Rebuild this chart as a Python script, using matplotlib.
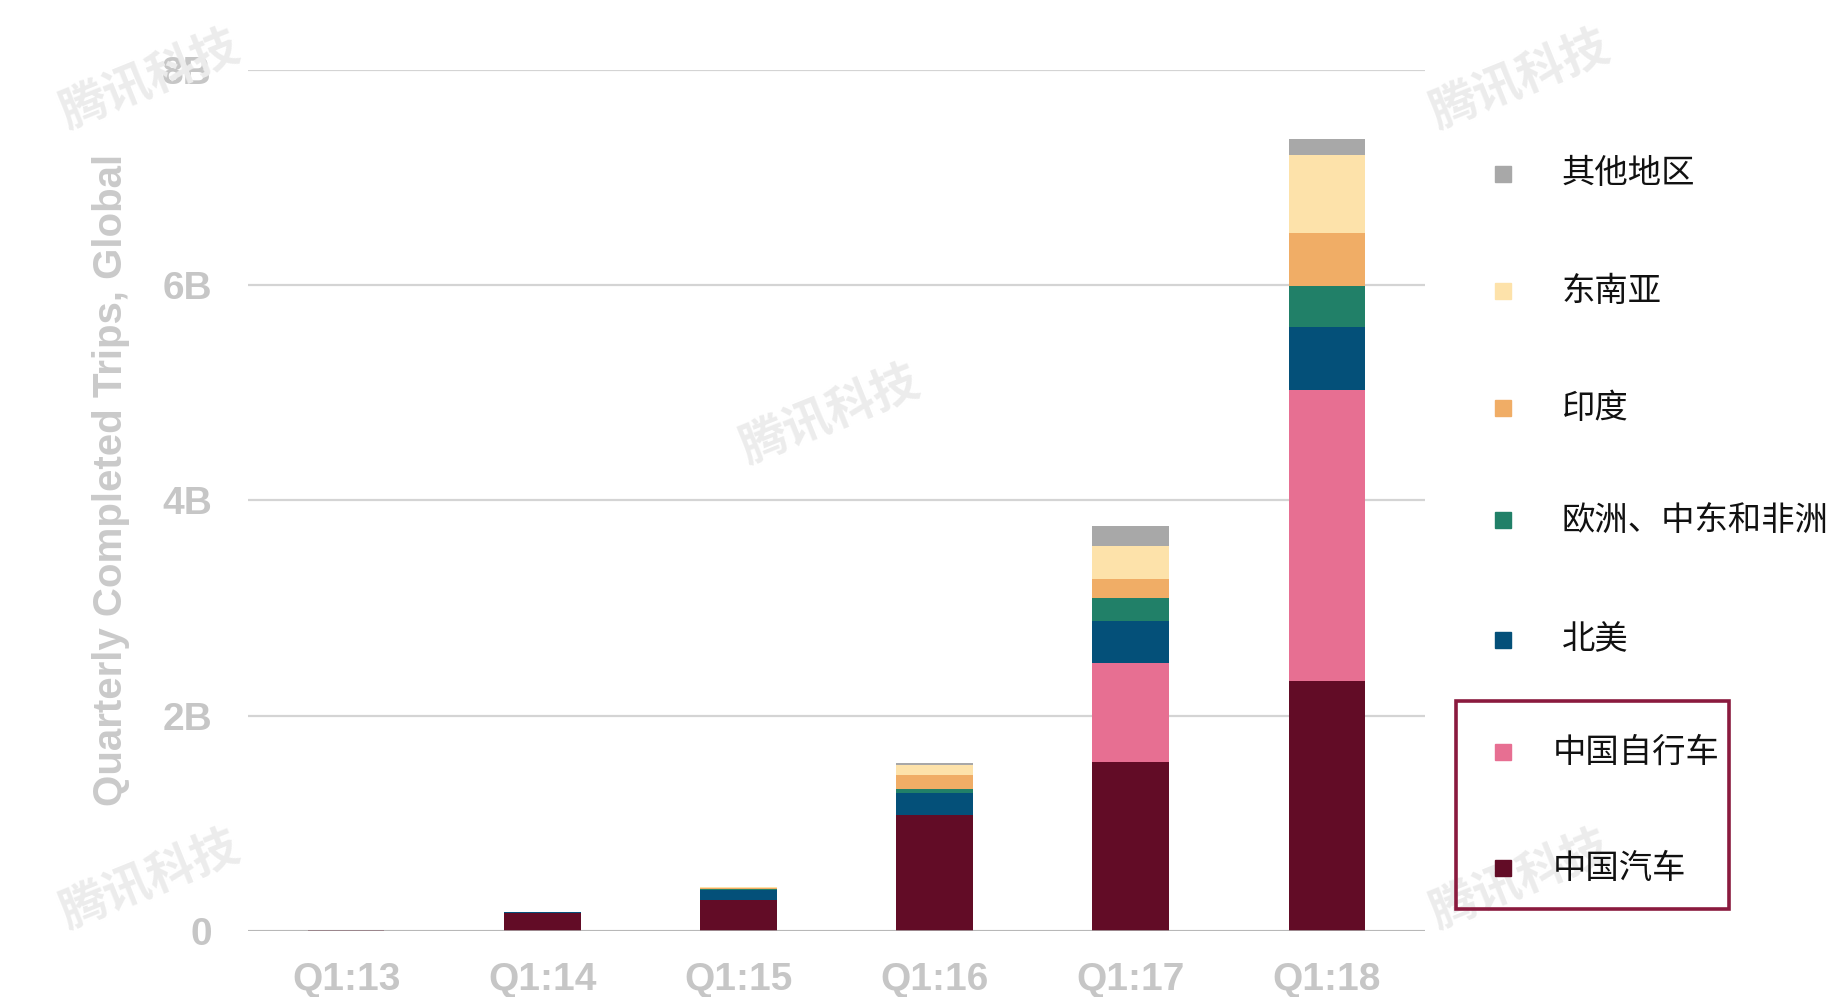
import numpy as np
import matplotlib.pyplot as plt
from matplotlib.patches import Rectangle

plt.rcParams['font.family'] = ['Liberation Sans', 'Noto Sans CJK SC', 'DejaVu Sans']

quarters = ['Q1:13', 'Q1:14', 'Q1:15', 'Q1:16', 'Q1:17', 'Q1:18']

# billions of trips, bottom to top
china_car = [0.01, 0.17, 0.29, 1.08, 1.57, 2.32]
china_bike = [0.0, 0.0, 0.0, 0.0, 0.92, 2.71]
north_america = [0.0, 0.01, 0.09, 0.20, 0.39, 0.58]
emea = [0.0, 0.0, 0.01, 0.04, 0.21, 0.38]
india = [0.0, 0.0, 0.01, 0.13, 0.18, 0.50]
sea = [0.0, 0.0, 0.01, 0.09, 0.31, 0.72]
other = [0.0, 0.0, 0.0, 0.02, 0.18, 0.15]

names = ['中国汽车', '中国自行车', '北美', '欧洲、中东和非洲', '印度', '东南亚', '其他地区']
series = [china_car, china_bike, north_america, emea, india, sea, other]
colors = ['#620c26', '#e76f92', '#045079', '#218068', '#f0ad66', '#fde2aa', '#a8a8a8']

yticks = [0, 2, 4, 6, 8]
ytick_labels = ['0', '2B', '4B', '6B', '8B']

fig = plt.figure(figsize=(18.32, 9.97), dpi=100)
ax = fig.add_axes([0.1354, 0.0662, 0.6424, 0.8636])

x = np.arange(len(quarters))
bottom = np.zeros(len(quarters))
for vals, c in zip(series, colors):
    ax.bar(x, vals, width=0.39, bottom=bottom, color=c, zorder=3)
    bottom += np.array(vals)

ax.set_xlim(-0.5, 5.5)
ax.set_ylim(0, 8)
ax.set_yticks(yticks)
ax.set_yticklabels(ytick_labels, fontweight='bold')
ax.set_xticks(x)
ax.set_xticklabels(quarters, fontweight='bold')

for s in ax.spines.values():
    s.set_visible(False)
ax.grid(axis='y', color='#d4d4d4', linewidth=1.6, zorder=0)
ax.axhline(0, color='#b0b0b0', linewidth=1.8, zorder=4)
ax.tick_params(length=0, labelsize=28, colors='#c6c6c6')
ax.tick_params(axis='y', pad=26)
ax.tick_params(axis='x', pad=22)
ax.set_ylabel('Quarterly Completed Trips, Global', fontsize=29, fontweight='bold',
              color='#cacaca')
ax.yaxis.set_label_coords(-0.100, 0.524)

# legend, top to bottom
W, H = 1832, 997
rows_y = [174, 291, 408, 520, 640, 752, 868]
for i, (name, c) in enumerate(zip(names[::-1], colors[::-1])):
    yy = 1 - rows_y[i] / H
    fig.add_artist(Rectangle((1495 / W, yy - 8 / H), 16 / W, 16 / H,
                             transform=fig.transFigure, color=c))
    tx = 1553 if i >= 5 else 1562
    fig.text(tx / W, yy, name, fontsize=24, va='center', ha='left',
             color='#111111', family=['Noto Sans CJK SC', 'DejaVu Sans'])

fig.add_artist(Rectangle((1456 / W, 1 - 909 / H), 273 / W, 208 / H,
                         transform=fig.transFigure, fill=False,
                         edgecolor='#8a1a3e', linewidth=2.6))

# faint watermarks
for wx, wy in [(150, 80), (1520, 80), (830, 415), (150, 880), (1520, 880)]:
    fig.text(wx / W, 1 - wy / H, '腾讯科技', fontsize=34, rotation=22,
             color='#ececec', ha='center', va='center', zorder=0,
             fontweight='bold', family=['Noto Sans CJK SC', 'DejaVu Sans'])

fig.savefig('out.png')
